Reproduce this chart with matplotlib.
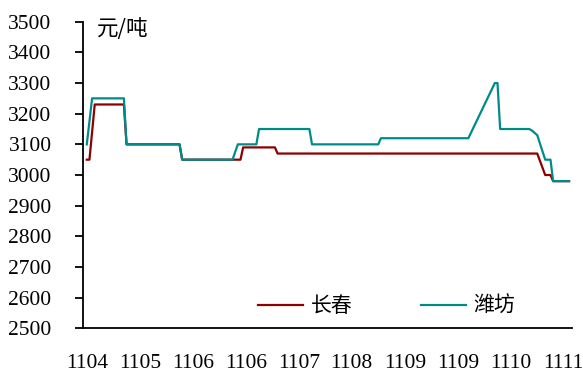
import matplotlib
matplotlib.use("Agg")
import matplotlib.pyplot as plt
import numpy as np

plt.rcParams['font.family'] = ['Liberation Serif', 'Noto Sans CJK SC']
plt.rcParams['axes.unicode_minus'] = False

# observation index of each price change, and the price there (元/吨)
changchun_idx = [0, 1, 3, 14, 15, 35, 36, 58, 59, 71, 72, 170, 173, 175, 176, 182]
changchun_price = [3050, 3050, 3230, 3230, 3100, 3100, 3050, 3050, 3090, 3090,
                   3070, 3070, 3000, 3000, 2980, 2980]

weifang_idx = [0, 2, 14, 15, 35, 36, 55, 57, 64, 65, 84, 85, 110, 111, 144, 154,
               155, 156, 167, 168, 170, 173, 175, 176, 182]
weifang_price = [3100, 3250, 3250, 3100, 3100, 3050, 3050, 3100, 3100, 3150, 3150,
                 3100, 3100, 3120, 3120, 3300, 3300, 3150, 3150, 3145, 3130, 3050,
                 3050, 2980, 2980]

n_obs = 183
tick_step = 20
tick_labels = ["1104", "1105", "1106", "1106", "1107", "1108", "1109", "1109",
               "1110", "1111"]

fig = plt.figure(figsize=(5.83, 3.68), dpi=100)
ax = fig.add_axes([0.1432, 0.1079, 0.8374, 0.8331])

ax.plot(changchun_idx, changchun_price, color="#8B0000", lw=1.6, label="长春")
ax.plot(weifang_idx, weifang_price, color="#008B8B", lw=1.6, label="潍坊")

ax.set_ylim(2500, 3500)
ax.set_yticks(np.arange(2500, 3501, 100))
ax.set_xlim(-1.25, 183.0)
ax.set_xticks(np.arange(0, n_obs, tick_step))
ax.set_xticklabels(tick_labels)

for s in ("top", "right"):
    ax.spines[s].set_visible(False)
for s in ("left", "bottom"):
    ax.spines[s].set_linewidth(1.3)
    ax.spines[s].set_color("black")

ax.tick_params(axis="y", direction="out", length=6, width=1.3, pad=17,
               labelsize=15.5, colors="black")
ax.tick_params(axis="x", length=0, pad=18.5, labelsize=15.5, colors="black")

cjk = ["Noto Sans CJK SC", "DejaVu Sans"]
fig.text(0.1664, 0.921, "元/吨", fontsize=15.5, ha="left", va="center", family=cjk)

leg = fig.legend(loc="center", bbox_to_anchor=(0.663, 0.168), ncol=2,
                 frameon=False, handlelength=2.16, handletextpad=0.34,
                 columnspacing=3.3, prop={"family": cjk, "size": 15})

fig.savefig("out.png", dpi=100)
